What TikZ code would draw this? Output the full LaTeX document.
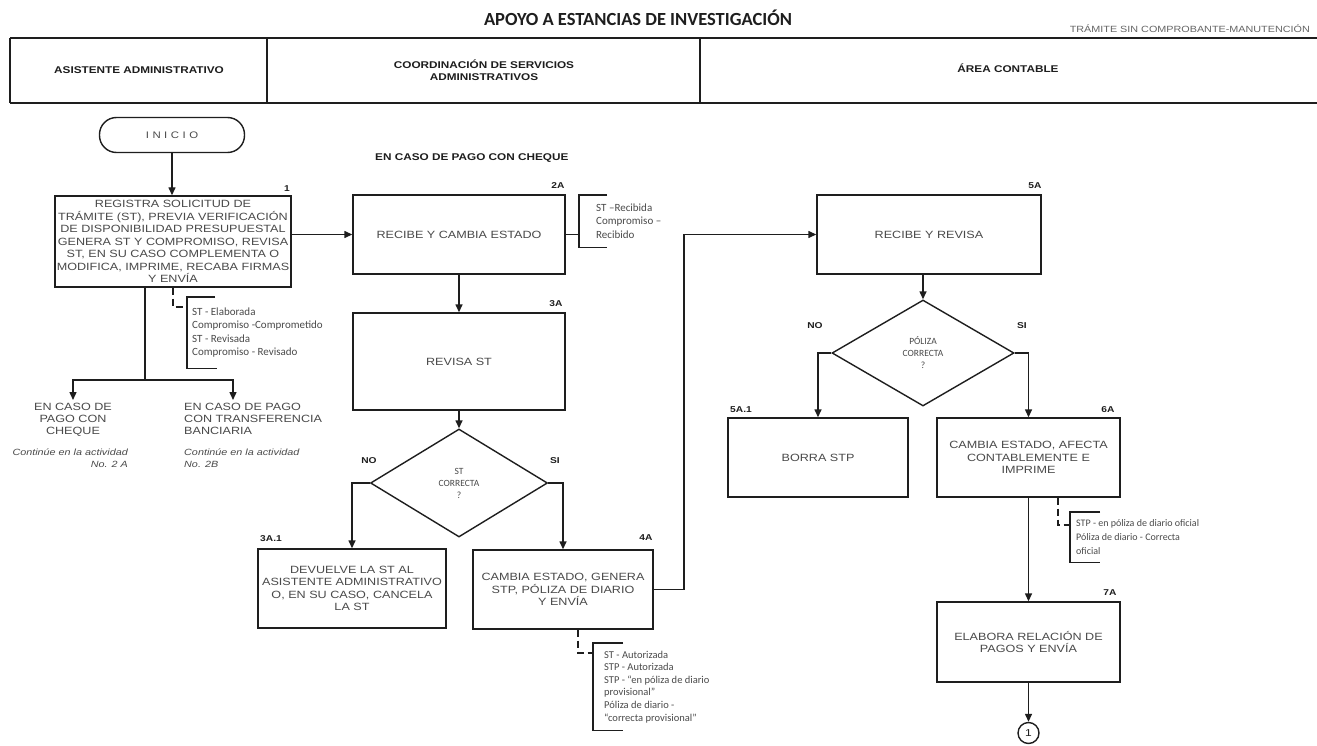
\documentclass[tikz,border=0pt]{standalone}
\usepackage{fontspec}
\setmainfont{Liberation Sans}
\newfontfamily\boxfont[FakeStretch=1.2]{Liberation Sans}
\newfontfamily\notefont{Carlito}
\newfontfamily\titlefont{Carlito}
\usetikzlibrary{arrows.meta,shapes.geometric}
\definecolor{ink}{HTML}{1E1E1E}
\definecolor{txt}{HTML}{4A4A4A}
\begin{document}
\begin{tikzpicture}[x=1pt,y=-1pt,
  every node/.style={inner sep=0pt, text=txt},
  proc/.style={draw=ink, line width=1.4pt, align=center,
    font=\boxfont\fontsize{10.5}{12.5}\selectfont},
  decision/.style={diamond, draw=ink, line width=1.4pt, align=center,
    inner sep=0pt, font=\notefont\fontsize{9.5}{12}\selectfont},
  terminal/.style={draw=ink, line width=1.4pt, rounded corners=17pt,
    font=\boxfont\fontsize{9.5}{11}\selectfont},
  tag/.style={font=\boxfont\bfseries\fontsize{8.5}{10}\selectfont, text=ink},
  lane/.style={font=\boxfont\bfseries\fontsize{9.8}{12}\selectfont, align=center, text=ink},
  branch/.style={font=\boxfont\fontsize{10.5}{12}\selectfont},
  hint/.style={font=\boxfont\itshape\fontsize{9}{12}\selectfont},
  note/.style={font=\notefont\fontsize{11}{13.3}\selectfont, align=left, anchor=north west},
  flow/.style={draw=ink, line width=1.4pt, -{Triangle[length=8pt,width=7pt]}},
  link/.style={draw=ink, line width=1.4pt},
  bracket/.style={draw=ink, line width=1.2pt},
  notetick/.style={draw=ink, line width=1.2pt, dash pattern=on 7pt off 4pt}
]
\useasboundingbox (0,0) rectangle (1317,746);
\fill[white] (0,0) rectangle (1317,746);

% ---- heading ----
\node[font=\titlefont\bfseries\fontsize{18.5}{22}\selectfont, text=ink] (title) at (638,18) {APOYO A ESTANCIAS DE INVESTIGACIÓN};
\node[font=\boxfont\fontsize{9}{11}\selectfont, text=black!60, anchor=east] (sub) at (1310,29) {TRÁMITE SIN COMPROBANTE-MANUTENCIÓN};

% ---- swimlane header ----
\draw[draw=ink, line width=1.8pt] (10,38) -- (1317,38) (10,103) -- (1317,103)
  (10,38) -- (10,103) (267,38) -- (267,103) (700,38) -- (700,103);
\node[lane] (laneA) at (139,70) {ASISTENTE ADMINISTRATIVO};
\node[lane] (laneB) at (484,70) {COORDINACIÓN DE SERVICIOS\\ADMINISTRATIVOS};
\node[lane] (laneC) at (1008,68) {ÁREA CONTABLE};

\node[tag, anchor=west, font=\boxfont\bfseries\fontsize{9.8}{12}\selectfont] (case) at (375,158) {EN CASO DE PAGO CON CHEQUE};

% ---- Asistente administrativo ----
\node[terminal, minimum width=145pt, minimum height=35pt] (inicio) at (172,135)
  {I\kern3.5pt N\kern3.5pt I\kern3.5pt C\kern3.5pt I\kern3.5pt O};
\node[proc, minimum width=236pt, minimum height=91pt] (b1) at (173,241.5)
  {REGISTRA SOLICITUD DE\\TRÁMITE (ST), PREVIA VERIFICACIÓN\\DE DISPONIBILIDAD PRESUPUESTAL\\GENERA ST Y COMPROMISO, REVISA\\ST, EN SU CASO COMPLEMENTA O\\MODIFICA, IMPRIME, RECABA FIRMAS\\Y ENVÍA};
\node[tag] (l1) at (287,189) {1};
\draw[flow] (inicio.south) -- (inicio.south |- b1.north);

\node[note, minimum height=71pt, inner xsep=5pt] (n1) at (187,297)
  {ST - Elaborada\\Compromiso -Comprometido\\ST - Revisada\\Compromiso - Revisado};
\draw[bracket] ([xshift=28pt]n1.north west) -- (n1.north west) -- (n1.south west) -- ([xshift=30pt]n1.south west);
\coordinate (k1) at (173,307);
\draw[notetick] (b1.south -| k1) |- (n1.west |- k1);

\coordinate (split) at (145,380);
\coordinate (ca) at (73,400);
\coordinate (cb) at (233,400);
\draw[link] (b1.south -| split) -- (split);
\draw[flow] (split) -| (ca);
\draw[flow] (split) -| (cb);
\node[branch, align=center, anchor=north] (cheque) at (73,403) {EN CASO DE\\PAGO CON\\CHEQUE};
\node[branch, align=left, anchor=north west] (transf) at (184,403) {EN CASO DE PAGO\\CON TRANSFERENCIA\\BANCIARIA};
\node[hint, align=right, anchor=north east] (go2a) at (128,449) {Continúe en la actividad\\No. 2 A};
\node[hint, align=left, anchor=north west] (go2b) at (184,449) {Continúe en la actividad\\No. 2B};

% ---- Coordinación de servicios administrativos ----
\node[proc, minimum width=212pt, minimum height=79pt] (b2a) at (459,234.5) {RECIBE Y CAMBIA ESTADO};
\node[tag] (l2a) at (558,186) {2A};
\node[note, minimum height=52pt, inner xsep=17pt] (n2) at (579,195)
  {ST –Recibida\\Compromiso –\\Recibido};
\draw[bracket] ([xshift=28pt]n2.north west) -- (n2.north west) -- (n2.south west) -- ([xshift=28pt]n2.south west);
\draw[link] (b2a.east) -- (b2a.east -| n2.west);

\node[proc, minimum width=212pt, minimum height=97pt] (b3a) at (459,361.5) {REVISA ST};
\node[tag] (l3a) at (556,304) {3A};

\node[decision, minimum width=177pt, minimum height=108pt] (d1) at (459,483) {ST\\CORRECTA\\?};
\node[tag] (no1) at (369,461) {NO};
\node[tag] (si1) at (555,461) {SI};

\node[proc, minimum width=188pt, minimum height=79pt] (b3a1) at (352,588.5)
  {DEVUELVE LA ST AL\\ASISTENTE ADMINISTRATIVO\\O, EN SU CASO, CANCELA\\LA ST};
\node[tag] (l3a1) at (271,539) {3A.1};

\node[proc, minimum width=180pt, minimum height=79pt] (b4a) at (563,589.5)
  {CAMBIA ESTADO, GENERA\\STP, PÓLIZA DE DIARIO\\Y ENVÍA};
\node[tag] (l4a) at (646,538) {4A};

\node[note, minimum height=87pt, inner xsep=11pt, font=\notefont\fontsize{10.5}{12.6}\selectfont] (n4) at (593,643)
  {ST - Autorizada\\STP - Autorizada\\STP - “en póliza de diario\\provisional”\\Póliza de diario -\\“correcta provisional”};
\draw[bracket] ([xshift=30pt]n4.north west) -- (n4.north west) -- (n4.south west) -- ([xshift=30pt]n4.south west);
\coordinate (k4) at (578,653);
\draw[notetick] (b4a.south -| k4) |- (n4.west |- k4);

\draw[flow] (b2a.south) -- (b3a.north);
\draw[flow] (b3a.south) -- (d1.north);
\draw[flow] (d1.west) -| (b3a1.north);
\draw[flow] (d1.east) -| (b4a.north);
\draw[flow] (b1.east |- b2a.west) -- (b2a.west);

% ---- Área contable ----
\node[proc, minimum width=224pt, minimum height=79pt] (b5a) at (929,234.5) {RECIBE Y REVISA};
\node[tag] (l5a) at (1035,186) {5A};

\coordinate (turn) at (684,400);
\draw[flow] (b4a.east) -| (turn) |- (b5a.west);

\node[decision, minimum width=182pt, minimum height=106pt] (d2) at (923,353) {PÓLIZA\\CORRECTA\\?};
\node[tag] (no2) at (815,326) {NO};
\node[tag] (si2) at (1022,326) {SI};
\draw[flow] (d2.north |- b5a.south) -- (d2.north);

\node[proc, minimum width=180pt, minimum height=79pt] (b5a1) at (818,457.5) {BORRA STP};
\node[tag] (l5a1) at (741,410) {5A.1};

\node[proc, minimum width=183pt, minimum height=79pt] (b6a) at (1028.5,457.5)
  {CAMBIA ESTADO, AFECTA\\CONTABLEMENTE E\\IMPRIME};
\node[tag] (l6a) at (1108,410) {6A};

\draw[flow] (d2.west) -| (b5a1.north);
\draw[flow] (d2.east) -| (b6a.north);

\node[note, minimum height=50pt, inner xsep=6pt, font=\notefont\fontsize{10}{14}\selectfont] (n6) at (1070,512)
  {STP - en póliza de diario oficial\\Póliza de diario - Correcta\\oficial};
\draw[bracket] ([xshift=30pt]n6.north west) -- (n6.north west) -- (n6.south west) -- ([xshift=30pt]n6.south west);
\coordinate (k6) at (1058,525);
\draw[notetick] (b6a.south -| k6) |- (n6.west |- k6);

\node[proc, minimum width=183pt, minimum height=80pt] (b7a) at (1028.5,642)
  {ELABORA RELACIÓN DE\\PAGOS Y ENVÍA};
\node[tag] (l7a) at (1110,593) {7A};
\draw[flow] (b6a.south) -- (b7a.north);

\node[circle, draw=ink, line width=1.4pt, minimum size=21pt,
  font=\boxfont\fontsize{10}{12}\selectfont, text=ink] (c1) at (1028.5,733) {1};
\draw[flow] (b7a.south) -- (c1.north);
\end{tikzpicture}
\end{document}
